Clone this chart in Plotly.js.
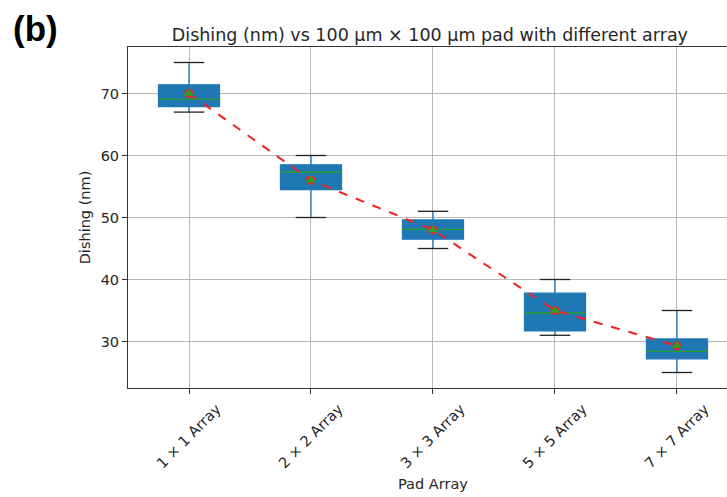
<!DOCTYPE html>
<html><head><meta charset="utf-8">
<script src="https://cdn.plot.ly/plotly-3.0.1.min.js"></script>
<style>html,body{margin:0;padding:0;background:#fff}</style>
</head><body>
<div id="chart" style="width:727px;height:497px"></div>
<script>
const categories = ["1 × 1 Array", "2 × 2 Array", "3 × 3 Array", "5 × 5 Array", "7 × 7 Array"];
const whiskerLow  = [67, 50, 45, 31, 25];
const q1          = [67.9, 54.5, 46.5, 31.7, 27.2];
const medians     = [69.1, 57.3, 48.1, 34.6, 28.4];
const q3          = [71.4, 58.5, 49.6, 37.8, 30.4];
const whiskerHigh = [75, 60, 51, 40, 35];
const means       = [70, 56, 48, 35, 29.3];

const idx = categories.map((c, i) => i);
const BOXW = 0.5, CAPW = 0.25;

const traces = [];
traces.push({
  type: 'box', x: idx, q1: q1, median: medians, q3: q3,
  lowerfence: whiskerLow, upperfence: whiskerHigh,
  width: BOXW, whiskerwidth: 0,
  fillcolor: '#1f77b4', line: {color: '#1f77b4', width: 1.3},
  hoverinfo: 'skip', showlegend: false
});
function segs(vals, half) {
  const xs = [], ys = [];
  vals.forEach((v, i) => { xs.push(i - half, i + half, null); ys.push(v, v, null); });
  return {xs, ys};
}
const med = segs(medians, BOXW / 2);
traces.push({type: 'scatter', mode: 'lines', x: med.xs, y: med.ys,
  line: {color: '#2ca02c', width: 1.3}, showlegend: false, hoverinfo: 'skip'});
const capsLo = segs(whiskerLow, CAPW / 2), capsHi = segs(whiskerHigh, CAPW / 2);
traces.push({type: 'scatter', mode: 'lines', x: capsLo.xs.concat(capsHi.xs), y: capsLo.ys.concat(capsHi.ys),
  line: {color: '#222222', width: 1.3}, showlegend: false, hoverinfo: 'skip'});
traces.push({type: 'scatter', mode: 'lines+markers', x: idx, y: means,
  line: {color: '#ee2222', width: 2, dash: 'dash'},
  marker: {symbol: 'circle', size: 9, color: '#ee2222'}, showlegend: false});
traces.push({type: 'scatter', mode: 'markers', x: idx, y: means,
  marker: {symbol: 'triangle-up', size: 9, color: '#2ca02c'}, showlegend: false});

const fontFam = 'DejaVu Sans, sans-serif';
const tickFont = {family: fontFam, size: 14.5, color: '#262626'};
const annotations = categories.map((c, i) => ({
  text: c, xref: 'x', yref: 'paper', x: i, y: 0, yshift: -10,
  xanchor: 'center', yanchor: 'top', textangle: -45, showarrow: false,
  font: tickFont
}));
annotations.push({text: 'Pad Array', xref: 'x', yref: 'paper', x: 2, y: 0, yshift: -86,
  xanchor: 'center', yanchor: 'top', showarrow: false, font: tickFont});
annotations.push({text: '<b>(b)</b>', xref: 'paper', yref: 'paper', x: 0, y: 1,
  xshift: -117, yshift: 40, xanchor: 'left', yanchor: 'top', showarrow: false,
  font: {family: 'Liberation Sans, Arial, sans-serif', size: 35, color: '#000'}});

const layout = {
  width: 727, height: 497,
  margin: {l: 128, r: 0, t: 47, b: 109},
  paper_bgcolor: '#fff', plot_bgcolor: '#fff',
  font: tickFont,
  title: {text: 'Dishing (nm) vs 100 µm × 100 µm pad with different array',
    x: 0.504, xref: 'paper', xanchor: 'center', y: 1, yref: 'paper', yanchor: 'bottom',
    pad: {b: 6}, font: {family: fontFam, size: 17.5, color: '#262626'}},
  xaxis: {
    range: [-0.5, 4.41], tickmode: 'array', tickvals: idx, showticklabels: false,
    showgrid: true, gridcolor: '#b8b8b8', gridwidth: 1,
    showline: true, linecolor: '#333', linewidth: 1, mirror: true,
    ticks: 'outside', ticklen: 5, tickcolor: '#333', zeroline: false,
    automargin: false
  },
  yaxis: {
    range: [22.5, 77.5], tickvals: [30, 40, 50, 60, 70],
    showgrid: true, gridcolor: '#b8b8b8', gridwidth: 1,
    showline: true, linecolor: '#333', linewidth: 1,
    ticks: 'outside', ticklen: 5, tickcolor: '#333', zeroline: false,
    title: {text: 'Dishing (nm)', font: tickFont, standoff: 6},
    automargin: false
  },
  annotations: annotations
};
Plotly.newPlot('chart', traces, layout, {displayModeBar: false, staticPlot: true});
</script>
</body></html>
